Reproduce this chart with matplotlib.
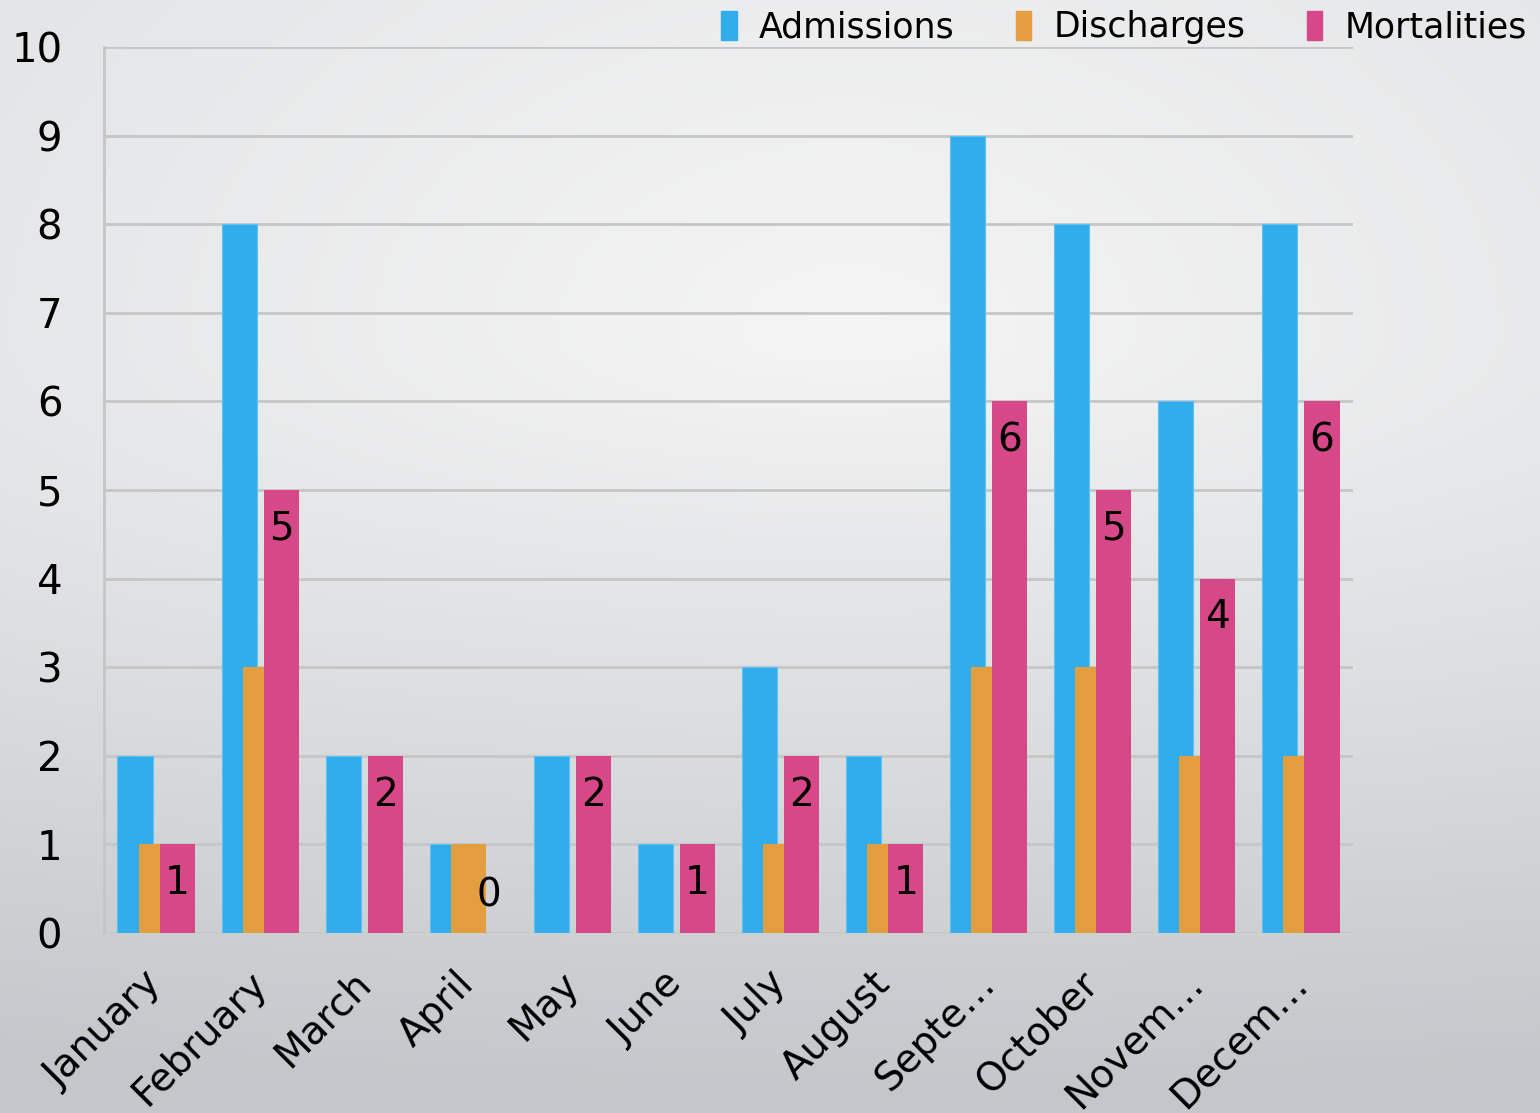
import numpy as np
import matplotlib
matplotlib.use("Agg")
import matplotlib.pyplot as plt
from matplotlib.patches import Patch

plt.rcParams['font.family'] = ['DejaVu Sans']

months = ["January", "February", "March", "April", "May", "June", "July",
          "August", "Septe…", "October", "Novem…", "Decem…"]
admissions = [2, 8, 2, 1, 2, 1, 3, 2, 9, 8, 6, 8]
discharges = [1, 3, 0, 1, 0, 0, 1, 1, 3, 3, 2, 2]
mortalities = [1, 5, 2, 0, 2, 1, 2, 1, 6, 5, 4, 6]

c_adm = "#32adeb"
c_dis = "#e49e40"
c_mor = "#d64887"

fig = plt.figure(figsize=(15.4, 11.13), dpi=100)

# background: light spot upper middle, grey towards the bottom
bg = fig.add_axes([0, 0, 1, 1], zorder=-10)
H, W = 300, 400
v, u = np.mgrid[0:1:H * 1j, 0:1:W * 1j]
k = np.where(v < 0.3, 0.6, 1.45)
t = np.sqrt(((u - 0.55) * 0.55) ** 2 + ((v - 0.3) * k) ** 2)
t = np.clip(t, 0, 1)
c_top = np.array([0.96, 0.96, 0.96])
c_bot = np.array([0.765, 0.78, 0.795])
img = c_top[None, None, :] * (1 - t[..., None]) + c_bot[None, None, :] * t[..., None]
bg.imshow(img, aspect="auto", extent=[0, 1, 0, 1])
bg.axis("off")

ax = fig.add_axes([104 / 1540, 1 - 933 / 1113, (1353 - 104) / 1540, (933 - 47) / 1113])
ax.set_facecolor("none")

x = np.arange(len(months))
w = 0.337
off = 0.202
ax.bar(x - off, admissions, w, color=c_adm, edgecolor="#5cc3f5", linewidth=0.8, zorder=3)
ax.bar(x, discharges, w, color=c_dis, zorder=4)
ax.bar(x + off, mortalities, w, color=c_mor, zorder=5)

for xi, m in zip(x, mortalities):
    dy = -28 if m > 0 else 27
    ax.annotate(str(m), (xi + off, m), xytext=(0, dy), textcoords="offset points",
                ha="center", va="center", fontsize=28, color="black", zorder=6)

ax.set_xlim(-0.5, len(months) - 0.5)
ax.set_ylim(0, 10)
ax.set_yticks(range(0, 11))
ax.yaxis.grid(True, color="#c6c6c6", linewidth=2, zorder=0)
ax.set_axisbelow(True)
for s in ["top", "right", "bottom"]:
    ax.spines[s].set_visible(False)
ax.spines["left"].set_color("#c6c6c6")
ax.spines["left"].set_linewidth(2)
ax.tick_params(axis="y", length=0, pad=30, labelsize=29)
ax.tick_params(axis="x", length=0, pad=32, labelsize=28)
ax.set_xticks(x)
ax.set_xticklabels(months, rotation=45, ha="right", va="center", rotation_mode="anchor")

handles = [Patch(color=c_adm, label="Admissions"),
           Patch(color=c_dis, label="Discharges"),
           Patch(color=c_mor, label="Mortalities")]
fig.legend(handles=handles, loc="upper right", bbox_to_anchor=(1.012, 1.019), ncol=3,
           frameon=False, fontsize=25, handlelength=0.45, handleheight=0.9,
           handletextpad=0.65, columnspacing=1.75)

fig.savefig("out.png", dpi=100)
